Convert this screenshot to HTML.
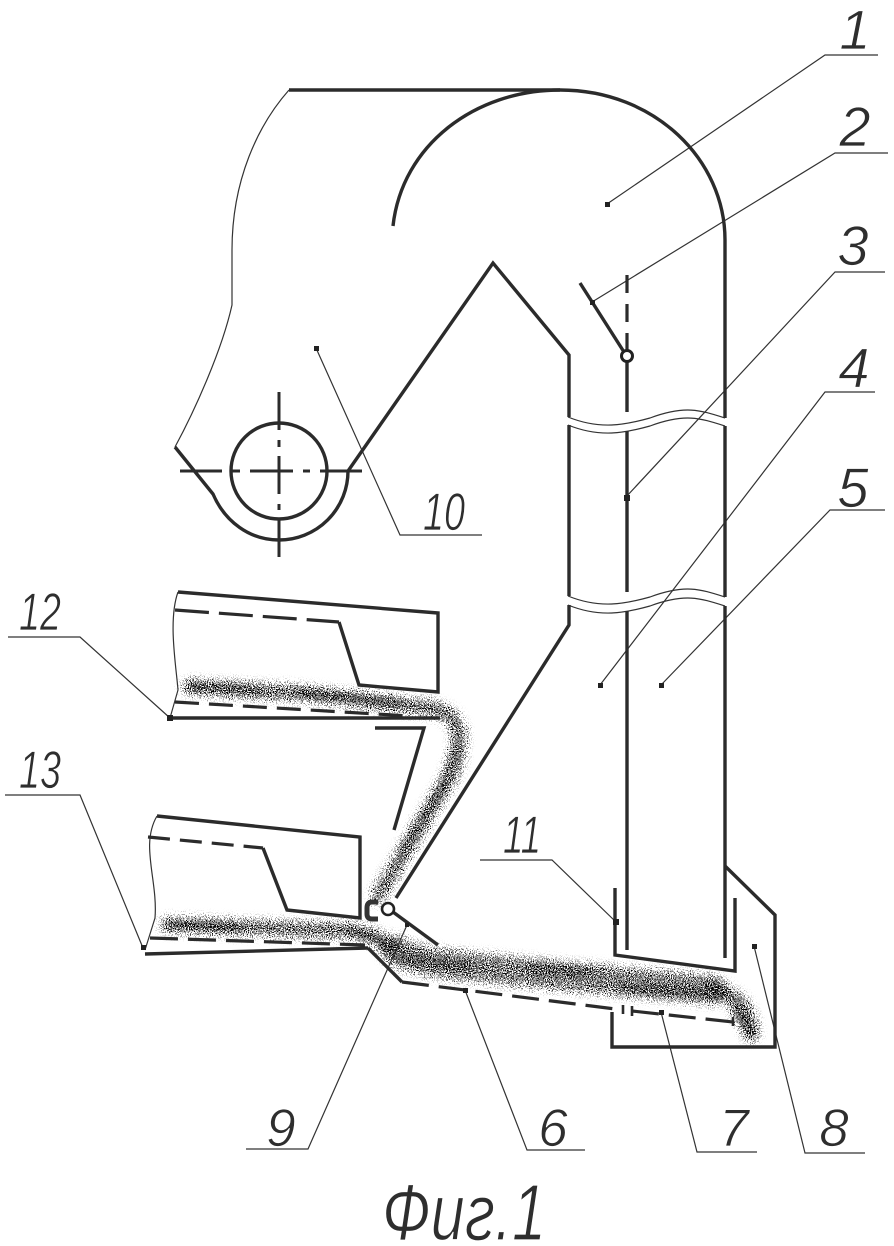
<!DOCTYPE html>
<html><head><meta charset="utf-8"><style>
html,body{margin:0;padding:0;background:#fff}
svg{display:block}
text{font-family:"Liberation Sans",sans-serif;font-style:italic;fill:#2e2e2e;text-anchor:middle;stroke:#fff;stroke-width:0.8}
</style></head><body>
<svg width="894" height="1246" viewBox="0 0 894 1246" xmlns="http://www.w3.org/2000/svg">
<defs>
<filter id="st" x="0" y="0" width="894" height="1246" filterUnits="userSpaceOnUse" color-interpolation-filters="sRGB">
<feGaussianBlur in="SourceAlpha" stdDeviation="4.5" result="b"/>
<feTurbulence type="fractalNoise" baseFrequency="0.95" numOctaves="2" seed="4" result="t"/>
<feColorMatrix in="t" type="matrix" values="0 0 0 0 0  0 0 0 0 0  0 0 0 0 0  3 0 0 0 -1" result="n"/>
<feComposite in="b" in2="n" operator="arithmetic" k1="0" k2="0.92" k3="1" k4="-1" result="c"/>
<feComponentTransfer in="c"><feFuncA type="linear" slope="4"/></feComponentTransfer>
</filter>
</defs>
<rect width="894" height="1246" fill="#fff"/>

<!-- stipple -->
<g filter="url(#st)" fill="none" stroke="#111" stroke-linecap="round" stroke-linejoin="round">
<g stroke-opacity="0.72" stroke-width="16">
<path d="M190 687 L300 693 L430 708 Q459 714 459 738 Q459 762 447 782 L378 896"/>
<path d="M168 925 L350 931 Q372 932 392 948"/>
</g>
<g stroke-opacity="0.66" stroke-width="30">
<path d="M395 950 Q415 961 445 964 L540 974 L660 985 L712 990"/>
</g>
<g stroke-opacity="0.72" stroke-width="17">
<path d="M712 990 Q747 995 751 1033"/>
</g>
<g stroke-width="5">
<path d="M190 685 L260 692"/><path d="M300 692 L400 702"/><path d="M455 745 L440 790 L400 850"/>
<path d="M168 924 L240 928"/><path d="M350 931 L385 945"/><path d="M400 958 L470 968"/><path d="M530 968 L590 972"/><path d="M620 990 L700 992"/><path d="M735 1012 L752 1035" stroke-width="8"/>
</g>
</g>

<!-- thin lines -->
<g fill="none" stroke="#333" stroke-width="1.2">
<path d="M289 90 C258 125 232 180 232 250 L232 305 C222 350 195 410 175 447"/>
<path d="M178 592 C168 620 176 665 178 690 L170 718"/>
<path d="M157 816 C140 845 158 880 155 918 L145 950"/>
<path d="M568 417 C600 430 625 425 650 418 C685 405 700 410 725 418"/>
<path d="M568 425 C600 438 625 433 650 426 C685 413 700 418 725 426"/>
<path d="M568 596 C600 609 625 604 650 597 C685 584 700 589 725 597"/>
<path d="M568 605 C600 618 625 613 650 606 C685 593 700 598 725 606"/>
<path d="M607 204 L825 55 H878"/>
<path d="M592 302 L835 153 H888"/>
<path d="M626 497 L835 272 H885"/>
<path d="M600 685 L825 392 H875"/>
<path d="M661 685 L830 510 H885"/>
<path d="M316 348 L400 535 H482"/>
<path d="M170 718 L80 637 H8"/>
<path d="M143 948 L80 795 H5"/>
<path d="M616 922 L552 860 H480"/>
<path d="M754 946 L805 1153 H865"/>
<path d="M661 1012 L697 1152 H757"/>
<path d="M465 990 L527 1150 H585"/>
<path d="M407 925 L308 1149 H246"/>
</g>

<!-- thick lines -->
<g fill="none" stroke="#2b2b2b" stroke-width="3.4" stroke-linejoin="miter">
<path d="M289 90 H560"/>
<path d="M393 226 C402 145 475 90 560 90 C655 90 725 160 725 240 V418"/>
<path d="M725 426 V597"/>
<path d="M725 606 V958"/>
<path d="M175 447 L213 494 C225 522 250 540 279 540 A69 69 0 0 0 348 471 L493 263 L569 355 V417"/>
<path d="M569 425 V596"/>
<path d="M569 605 V625 L396 898"/>
<path d="M580 283 L624 352"/>
<path d="M627 362 V412 M627 431 V592 M627 611 V950"/>
<path d="M615 888 V955 L735 971 V898"/>
<path d="M725 866 L775 915 V1047 H612 V1012"/>
<path d="M368 948 L402 982"/>
<path d="M145 954 L368 948"/>
<path d="M178 592 L438 613 V692 L359 685 L339 622"/>
<path d="M170 718 L440 718"/>
<path d="M157 816 L360 837 V918 L287 910 L263 848"/>
<path d="M375 728 H424 L394 830"/>
<path d="M393 912 L438 945"/>
<path d="M378 902 H372 Q367 902 367 908 V914 Q367 919 372 919 H378" stroke-width="5" stroke="#333"/>
</g>

<!-- dashed -->
<g fill="none" stroke="#2b2b2b" stroke-width="3.2">
<path d="M175 610 L339 622" stroke-dasharray="34 10"/>
<path d="M175 702 L410 716" stroke-dasharray="24 10"/>
<path d="M148 837 L263 848" stroke-dasharray="22 10"/>
<path d="M150 938 L365 945" stroke-dasharray="28 10"/>
<path d="M402 982 L623 1010" stroke-dasharray="27 10"/>
<path d="M632 1011 L733 1022" stroke-dasharray="27 10"/>
<path d="M623 1005 V1014 M632 1006 V1016 M733 1017 V1026" stroke-width="2.6"/>
<path d="M627 275 V293 M627 304 V322 M627 333 V350"/>
</g>

<!-- circles & axis -->
<g fill="none" stroke="#2b2b2b">
<circle cx="279" cy="471" r="48" stroke-width="3.4"/>
<path d="M180 471 H222 M230 471 H240 M250 471 H293 M303 471 H310 M320 471 H362" stroke-width="3"/>
<path d="M279 392 V430 M279 440 V447 M279 456 V494 M279 504 V510 M279 520 V557" stroke-width="3"/>
</g>
<circle cx="627" cy="356" r="5.5" fill="#fff" stroke="#222" stroke-width="3"/>
<circle cx="388" cy="909" r="6" fill="#fff" stroke="#222" stroke-width="2.6"/>

<!-- dots -->
<g fill="#222">
<rect x="605" y="202" width="5" height="5"/>
<rect x="590" y="300" width="5" height="5"/>
<rect x="624" y="495" width="6" height="6"/>
<rect x="598" y="683" width="5" height="5"/>
<rect x="659" y="683" width="5" height="5"/>
<rect x="314" y="346" width="5" height="5"/>
<rect x="167" y="715" width="6" height="6"/>
<rect x="141" y="945" width="5" height="5"/>
<rect x="613" y="919" width="6" height="6"/>
<rect x="752" y="944" width="5" height="5"/>
<rect x="659" y="1010" width="5" height="5"/>
<rect x="463" y="988" width="5" height="5"/>
<rect x="405" y="923" width="4" height="4"/>
</g>

<!-- labels -->
<g font-size="56">
<text x="855" y="49">1</text>
<text x="855" y="146">2</text>
<text x="853" y="265">3</text>
<text x="854" y="387">4</text>
<text x="853" y="507">5</text>
</g>
<g font-size="53">
<text x="444" y="530" textLength="42" lengthAdjust="spacingAndGlyphs">10</text>
<text x="40" y="630" textLength="42" lengthAdjust="spacingAndGlyphs">12</text>
<text x="40" y="788" textLength="42" lengthAdjust="spacingAndGlyphs">13</text>
<text x="522" y="853" textLength="38" lengthAdjust="spacingAndGlyphs">11</text>
<text x="281" y="1146">9</text>
<text x="553" y="1146">6</text>
<text x="734" y="1146">7</text>
<text x="834" y="1146">8</text>
</g>
<text x="464" y="1240" font-size="80" textLength="164" lengthAdjust="spacingAndGlyphs" style="stroke-width:1.3">Фиг.1</text>
</svg>
</body></html>
